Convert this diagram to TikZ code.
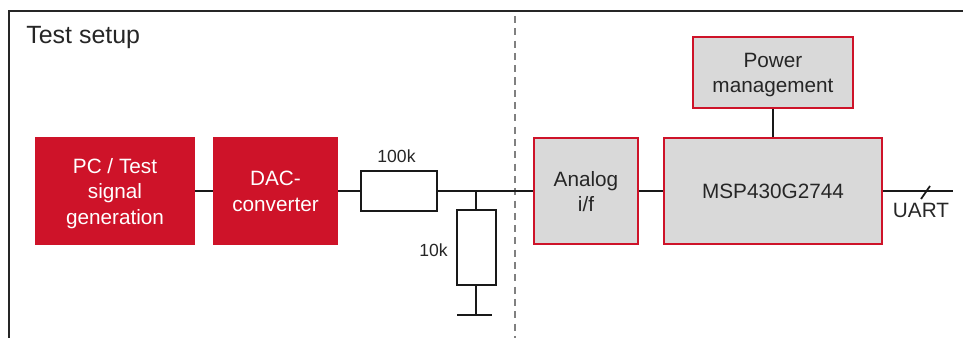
\documentclass[tikz,border=0pt]{standalone}
\usepackage{fontspec}
\setmainfont{Liberation Sans}
\definecolor{boxred}{HTML}{CE1329}
\definecolor{boxgray}{HTML}{D9D9D9}
\definecolor{txtdark}{HTML}{262626}
\tikzset{
	block/.style={draw=boxred, line width=1.14pt, fill=boxgray, text=txtdark, align=center, inner sep=0pt, font=\fontsize{11.8}{14.4}\selectfont},
	redblock/.style={block, fill=boxred, text=white},
	resistor/.style={draw=black!90, line width=1.14pt, fill=white, inner sep=0pt},
	wire/.style={draw=black!90, line width=1.14pt},
	lbl/.style={text=txtdark, inner sep=0pt}
}
\begin{document}
\begin{tikzpicture}[scale=1]
	\useasboundingbox (0,0) rectangle (19.26,6.76);

	% frame and separator
	\coordinate (frameb) at (0.18,0);
	\coordinate (framec) at (0.18,6.54);
	\coordinate (framee) at (19.26,6.54);
	\draw[line width=1.14pt, draw=black!85] (frameb) -- (framec) -- (framee);
	\coordinate (septop) at (10.30,6.44);
	\coordinate (sepbot) at (10.30,0);
	\draw[line width=1.14pt, draw=black!50, dash pattern=on 4pt off 3pt] (septop) -- (sepbot);
	\node[lbl, anchor=west, font=\fontsize{14.2}{16}\selectfont] (title) at (0.52,6.00) {Test setup};

	% blocks
	\node[redblock, minimum width=3.16cm, minimum height=2.12cm] (pc) at (2.30,2.94) {PC / Test\\signal\\generation\\[-14.8pt]};
	\node[redblock, minimum width=2.46cm, minimum height=2.12cm] (dac) at (5.51,2.94) {DAC-\\converter\\[-14.8pt]};
	\node[block, minimum width=2.08cm, minimum height=2.12cm] (analog) at (11.72,2.94) {Analog\\i/f\\[-14.8pt]};
	\node[block, minimum width=4.36cm, minimum height=2.12cm] (msp) at (15.46,2.94) {MSP430G2744};
	\node[block, minimum width=3.20cm, minimum height=1.42cm] (power) at (15.46,5.31) {Power\\management\\[-14.8pt]};

	% resistors
	\node[resistor, minimum width=1.52cm, minimum height=0.80cm] (rs) at (7.98,2.94) {};
	\node[resistor, minimum width=0.78cm, minimum height=1.50cm] (rp) at (9.52,1.81) {};
	\node[lbl, font=\fontsize{10}{12}\selectfont] (rslbl) at (7.93,3.64) {100k};
	\node[lbl, font=\fontsize{10}{12}\selectfont] (rplbl) at (8.67,1.76) {10k};

	% wires
	\coordinate (jct) at (rp.north |- rs.east);
	\coordinate (gnd) at (9.52,0.46);
	\coordinate (gndl) at (9.14,0.46);
	\coordinate (gndr) at (9.84,0.46);
	\coordinate (uartend) at (19.06,2.94);
	\draw[wire] (pc) -- (dac);
	\draw[wire] (dac) -- (rs);
	\draw[wire] (rs) -- (analog);
	\draw[wire] (jct) -- (rp);
	\draw[wire] (rp) -- (gnd);
	\draw[wire] (gndl) -- (gndr);
	\draw[wire] (analog) -- (msp);
	\draw[wire] (msp) -- (power);
	\draw[wire] (msp) -- (uartend);

	% bus mark
	\coordinate (slasha) at (18.42,2.78);
	\coordinate (slashb) at (18.60,3.04);
	\draw[wire, line width=1pt] (slasha) -- (slashb);
	\node[lbl, font=\fontsize{11.8}{14}\selectfont] (uart) at (18.42,2.56) {UART};
\end{tikzpicture}
\end{document}
